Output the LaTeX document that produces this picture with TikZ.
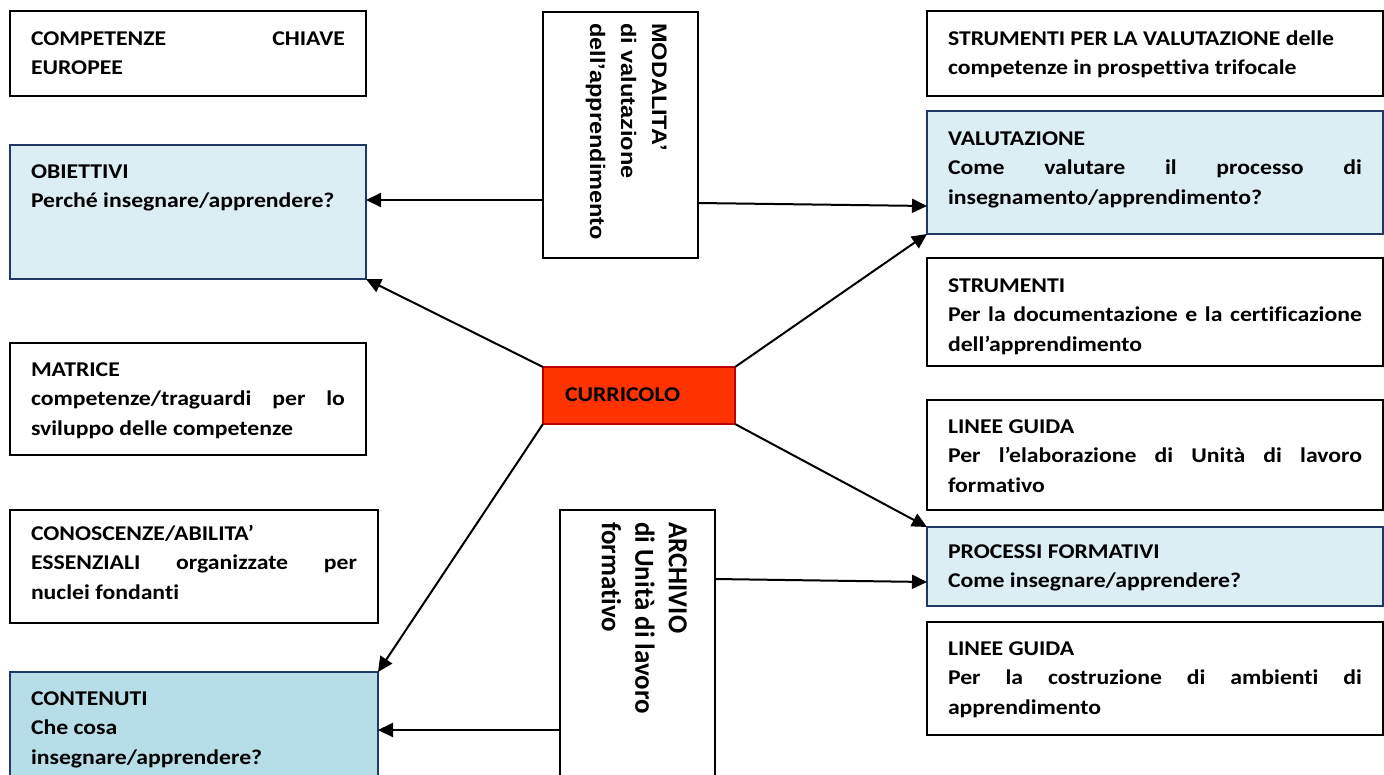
\documentclass[tikz,border=0pt]{standalone}
\usepackage{fontspec}
\setmainfont{Carlito}[FakeStretch=1.13,Ligatures={NoCommon}]
\newfontfamily\modfont{Liberation Sans}[FakeStretch=1.12]
\newfontfamily\archfont{Carlito}[FakeStretch=0.98,Ligatures={NoCommon}]
\usetikzlibrary{arrows.meta}
\definecolor{lblue}{RGB}{219,238,243}
\definecolor{dblue}{RGB}{183,221,232}
\definecolor{navy}{RGB}{31,56,100}
\definecolor{curred}{RGB}{255,51,0}
\definecolor{curedge}{RGB}{192,0,0}

\begin{document}
\begin{tikzpicture}[x=1pt,y=-1pt,
  box/.style={draw=black,line width=1.8pt,anchor=north west,outer sep=0pt,
    inner xsep=21pt,inner ysep=0pt,align=justify,
    font=\bfseries\fontsize{21}{29.8}\selectfont},
  lbox/.style={box,text width=314pt},
  rbox/.style={box,text width=414pt},
  tinted/.style={fill=lblue,draw=navy,line width=1.5pt},
  frame/.style={draw=black,line width=1.8pt,anchor=north west,outer sep=0pt,
    inner sep=0pt,minimum width=155pt},
  sidetext/.style={rotate=-90,anchor=north west,inner sep=0pt,align=left},
  conn/.style={line width=2pt,-{Triangle[length=15pt,width=14pt]}}]
\clip (0,0) rectangle (1384,774);

\node[lbox,text height=34pt,text depth=51pt] (comp) at (10,11)
  {COMPETENZE CHIAVE\linebreak EUROPEE};
\node[lbox,tinted,text height=33pt,text depth=101pt] (obj) at (10,145)
  {OBIETTIVI\\Perché insegnare/apprendere?};
\node[lbox,text height=33pt,text depth=79pt] (matr) at (10,343)
  {MATRICE\\competenze/traguardi per lo\linebreak sviluppo delle competenze};
\node[lbox,text width=326pt,text height=30pt,text depth=83pt] (cono) at (10,510)
  {CONOSCENZE/ABILITA’\\ESSENZIALI organizzate per\linebreak nuclei fondanti};
\node[lbox,tinted,fill=dblue,text width=326pt,text height=33pt,text depth=100pt] (cont) at (10,672)
  {CONTENUTI\\Che cosa\\insegnare/apprendere?};

\node[rbox,text height=34pt,text depth=51pt] (strval) at (927,11)
  {STRUMENTI PER LA VALUTAZIONE delle\\competenze in prospettiva trifocale};
\node[rbox,tinted,text height=34pt,text depth=89pt] (valu) at (927,111)
  {VALUTAZIONE\\Come valutare il processo di\linebreak insegnamento/apprendimento?};
\node[rbox,text height=34pt,text depth=74pt] (strum) at (927,258)
  {STRUMENTI\\Per la documentazione e la certificazione\linebreak dell’apprendimento};
\node[rbox,text height=33pt,text depth=77pt] (linee1) at (927,400)
  {LINEE GUIDA\\Per l’elaborazione di Unità di lavoro\linebreak formativo};
\node[rbox,tinted,text height=31pt,text depth=48pt] (proc) at (927,527)
  {PROCESSI FORMATIVI\\Come insegnare/apprendere?};
\node[rbox,text height=33pt,text depth=80pt] (linee2) at (927,622)
  {LINEE GUIDA\\Per la costruzione di ambienti di\linebreak apprendimento};

\node[box,draw=curedge,fill=curred,line width=1.5pt,inner xsep=22pt,text width=148pt,
  align=left,text height=34pt,text depth=23pt] (cur) at (543,367) {CURRICOLO};

\node[frame,minimum height=246pt] (mod) at (543,12) {};
\node[sidetext,font=\modfont\bfseries\fontsize{21}{31}\selectfont] (modtxt) at (667,23)
  {MODALITA’\\di valutazione\\dell’apprendimento};
\node[frame,minimum height=280pt] (arch) at (560,510) {};
\node[sidetext,font=\archfont\bfseries\fontsize{27.5}{33.5}\selectfont] (archtxt) at (687,522)
  {ARCHIVIO\\di Unità di lavoro\\formativo};

\draw[conn] (mod.west |- 0,200) -- (obj.east |- 0,200);
\draw[conn] (mod.east |- 0,203) -- (valu.west |- 0,206);
\draw[conn] (cur.north west) -- (obj.south east);
\draw[conn] (cur.north east) -- (valu.south west);
\draw[conn] (cur.south east) -- (proc.north west);
\draw[conn] (cur.south west) -- (cont.north east);
\draw[conn] (arch.east |- 0,579) -- (proc.west |- 0,582);
\draw[conn] (arch.west |- 0,730) -- (cont.east |- 0,730);
\end{tikzpicture}
\end{document}
